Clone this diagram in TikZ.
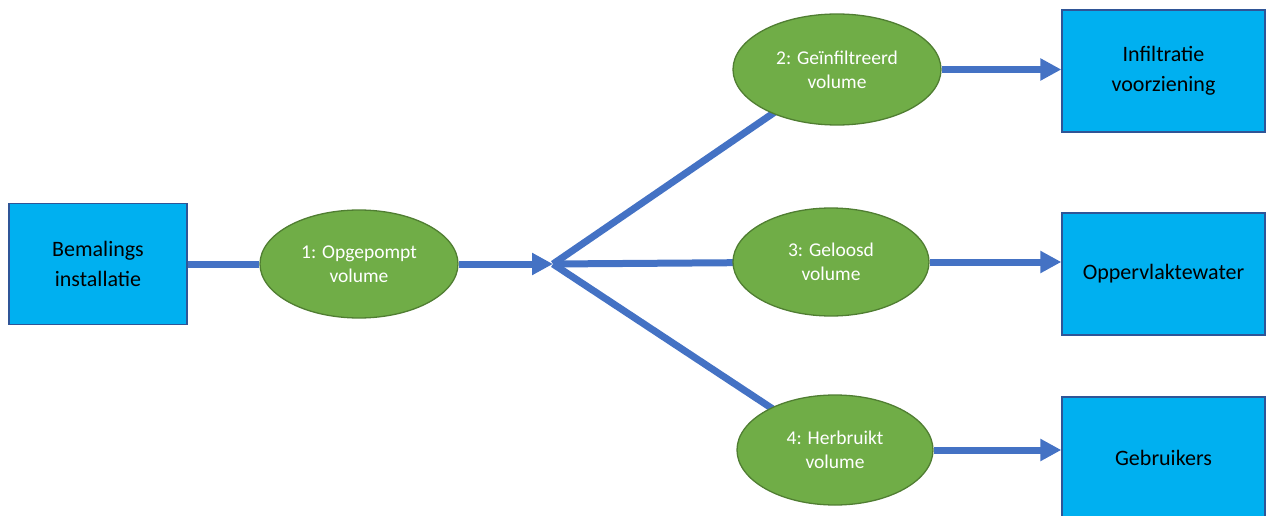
\documentclass[tikz,border=0pt]{standalone}
\usepackage{fontspec}
\setmainfont{Carlito}
\usetikzlibrary{shapes.geometric,arrows.meta,backgrounds}
\definecolor{boxfill}{HTML}{00B0F0}
\definecolor{boxline}{HTML}{2F5597}
\definecolor{ellfill}{HTML}{70AD47}
\definecolor{ellline}{HTML}{507E32}
\definecolor{flow}{HTML}{4472C4}
\tikzset{
  x=1pt, y=1pt,
  bluebox/.style={draw=boxline, fill=boxfill, line width=1.3pt, inner sep=0pt,
    align=center, text=black, font=\fontsize{22}{30}\selectfont},
  greenell/.style={ellipse, draw=ellline, fill=ellfill, line width=1.3pt, inner sep=0pt,
    align=center, text=white, font=\fontsize{19.5}{24}\selectfont},
  flowline/.style={draw=flow, line width=7pt},
  flowarrow/.style={flowline, -{Triangle[length=21pt,width=21pt]}}
}
\begin{document}
\begin{tikzpicture}
\useasboundingbox (0,0) rectangle (1266,515);
% boxes
\node[bluebox, minimum width=178, minimum height=121] (b0) at (98,251) {Bemalings\\installatie};
\node[bluebox, minimum width=203, minimum height=122] (b1) at (1163.5,444) {Infiltratie\\voorziening};
\node[bluebox, minimum width=203, minimum height=122] (b2) at (1163.5,241) {Oppervlaktewater};
\node[bluebox, minimum width=203, minimum height=122] (b3) at (1163.5,57) {Gebruikers};
% ellipses
\node[greenell, minimum width=198, minimum height=108] (e1) at (359,251) {1: Opgepompt\\volume};
\node[greenell, minimum width=208, minimum height=111] (e2) at (837,445.5) {2: Geïnfiltreerd\\volume};
\node[greenell, minimum width=196, minimum height=108] (e3) at (831,253) {3: Geloosd\\volume};
\node[greenell, minimum width=196, minimum height=110] (e4) at (835,65) {4: Herbruikt\\volume};
\coordinate (J) at (553,251);
\begin{scope}[on background layer]
\draw[flowline] (J) -- (e2.center);
\draw[flowline] (J) -- (e3.center);
\draw[flowline] (J) -- (e4.center);
\end{scope}
\draw[flowline] (b0.east) -- (e1.west);
\draw[flowarrow] (e1.east) -- (J);
\draw[flowarrow] (e2.east) -- (e2.east -| b1.west);
\draw[flowarrow] (e3.east) -- (e3.east -| b2.west);
\draw[flowarrow] (e4.east) -- (e4.east -| b3.west);
\end{tikzpicture}
\end{document}
